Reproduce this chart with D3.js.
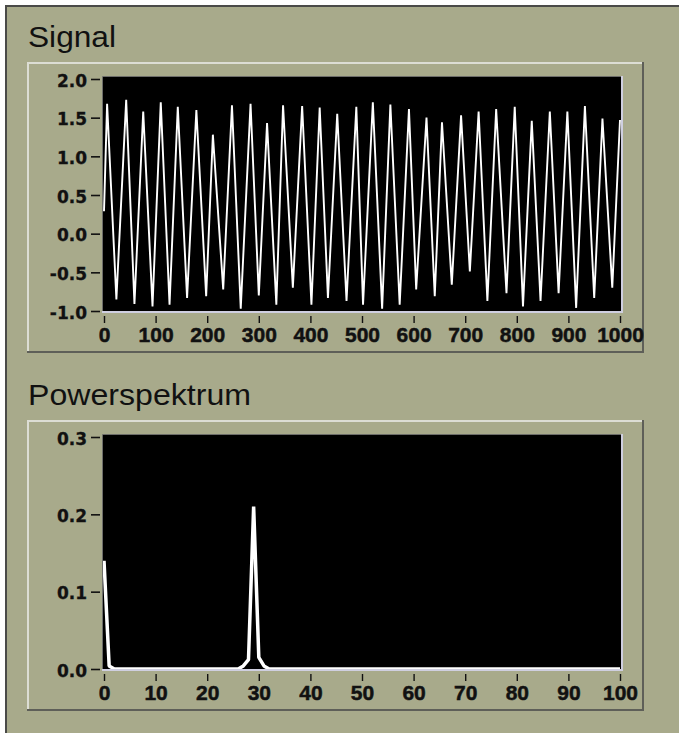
<!DOCTYPE html>
<html>
<head>
<meta charset="utf-8">
<script src="https://cdn.jsdelivr.net/npm/d3@7"></script>
<style>
  body { margin: 0; background: #fff; }
  svg { display: block; }
</style>
</head>
<body>
<div id="chart"></div>
<script>
// Signal trace: turning points (sample index, amplitude)
const signalIdx = [0, 6, 24, 43, 59, 76, 94, 110, 127, 143, 161, 179, 198, 211, 231,
  248, 265, 284, 300, 316, 334, 347, 366, 384, 402, 418, 434, 452, 470, 489, 502,
  521, 539, 555, 573, 591, 605, 625, 641, 655, 674, 692, 709, 726, 743,
  760, 780, 796, 812, 829, 846, 864, 881, 898, 915, 932, 950, 966, 985, 1000];
const signalVal = [0.29, 1.68, -0.85, 1.73, -0.91, 1.58, -0.94, 1.70, -0.92, 1.64, -0.83, 1.60, -0.81, 1.28, -0.72,
  1.66, -0.97, 1.68, -0.80, 1.43, -0.92, 1.66, -0.70, 1.65, -0.92, 1.63, -0.83, 1.55, -0.87, 1.64, -0.92,
  1.70, -0.97, 1.67, -0.92, 1.61, -0.72, 1.50, -0.81, 1.44, -0.66, 1.53, -0.49, 1.58, -0.87,
  1.61, -0.77, 1.64, -0.94, 1.46, -0.87, 1.58, -0.77, 1.58, -0.96, 1.65, -0.83, 1.49, -0.70, 1.47];
const signalXTicks = [0, 100, 200, 300, 400, 500, 600, 700, 800, 900, 1000];
const signalYTicks = [-1.0, -0.5, 0.0, 0.5, 1.0, 1.5, 2.0];

// Power spectrum: bins where the trace changes
const specBin = [0, 1, 2, 26, 27, 28, 29, 30, 31, 32, 100];
const specVal = [0.14, 0.004, 0, 0, 0.004, 0.012, 0.21, 0.015, 0.004, 0, 0];
const specXTicks = [0, 10, 20, 30, 40, 50, 60, 70, 80, 90, 100];
const specYTicks = [0.0, 0.1, 0.2, 0.3];

const W = 679, H = 733;
const bg = "#a8aa8b";

const svg = d3.select("#chart").append("svg")
  .attr("width", W)
  .attr("height", H);

// window background with its dark edge top/left
svg.append("rect")
  .attr("x", 5).attr("y", 5)
  .attr("width", W - 5).attr("height", H - 5)
  .attr("fill", bg);
svg.append("path")
  .attr("d", "M6," + H + " V6 H" + W)
  .attr("fill", "none")
  .attr("stroke", "#4a4a48")
  .attr("stroke-width", 2);

function drawGraph(cfg) {
  const dy = cfg.offset;
  const g = svg.append("g").attr("transform", "translate(0," + dy + ")");

  // title
  g.append("text")
    .attr("x", 28)
    .attr("y", 47)
    .attr("font-family", "Liberation Sans, Arial, sans-serif")
    .attr("font-size", 29)
    .attr("fill", "#111")
    .attr("textLength", cfg.titleWidth)
    .attr("lengthAdjust", "spacingAndGlyphs")
    .text(cfg.title);

  // raised panel
  g.append("rect")
    .attr("x", 27).attr("y", 62)
    .attr("width", 617).attr("height", 290)
    .attr("fill", bg);
  g.append("path")
    .attr("d", "M28,351 V63 H643")
    .attr("fill", "none").attr("stroke", "#dcddd4").attr("stroke-width", 2);
  g.append("path")
    .attr("d", "M27,352 H643 V62")
    .attr("fill", "none").attr("stroke", "#5e5f58").attr("stroke-width", 2);

  // plot area
  const plot = { x: 103, y: 77, w: 518, h: 234 };
  g.append("rect")
    .attr("x", plot.x).attr("y", plot.y)
    .attr("width", plot.w).attr("height", plot.h)
    .attr("fill", "#000");

  const x = d3.scaleLinear().domain(cfg.xDomain).range([104, 620]);
  const y = d3.scaleLinear().domain(cfg.yDomain).range([311, 79]);

  const clipId = "clip" + cfg.key;
  g.append("clipPath").attr("id", clipId)
    .append("rect")
    .attr("x", plot.x).attr("y", plot.y)
    .attr("width", plot.w).attr("height", plot.h);

  const line = d3.line()
    .x(d => x(d[0]))
    .y(d => y(d[1]));

  g.append("path")
    .datum(d3.zip(cfg.xs, cfg.ys))
    .attr("clip-path", "url(#" + clipId + ")")
    .attr("d", line)
    .attr("fill", "none")
    .attr("stroke", "#fff")
    .attr("stroke-width", cfg.lineWidth)
    .attr("stroke-linejoin", cfg.join);

  // sunken border of the plot
  g.append("path")
    .attr("d", "M102.5,311 V76.5 H621")
    .attr("fill", "none").attr("stroke", "#6d6d6a").attr("stroke-width", 1);
  g.append("path")
    .attr("d", "M102,312 H622 V76")
    .attr("fill", "none").attr("stroke", "#cfcfe0").attr("stroke-width", 2);

  // axes
  const xAxis = g.append("g")
    .attr("transform", "translate(0,316)")
    .call(d3.axisBottom(x)
      .tickValues(cfg.xTicks)
      .tickSize(7)
      .tickPadding(4.5)
      .tickFormat(d3.format("d")));
  xAxis.select(".domain").remove();
  xAxis.attr("color", "#111")
    .attr("font-family", "Liberation Sans, Arial, sans-serif")
    .attr("font-size", 21)
    .attr("font-weight", "bold");
  xAxis.selectAll(".tick line").attr("stroke-width", 1.4);
  xAxis.selectAll(".tick text")
    .attr("stroke", "#111").attr("stroke-width", 0.5);

  const yAxis = g.append("g")
    .attr("transform", "translate(100,0)")
    .call(d3.axisLeft(y)
      .tickValues(cfg.yTicks)
      .tickSize(9)
      .tickPadding(4)
      .tickFormat(v => v.toFixed(1)));
  yAxis.select(".domain").remove();
  yAxis.attr("color", "#111")
    .attr("font-family", "DejaVu Sans, sans-serif")
    .attr("font-size", 17)
    .attr("font-weight", "bold");
  yAxis.selectAll(".tick line").attr("stroke-width", 1.6);
  yAxis.selectAll(".tick text")
    .attr("dy", "0.42em")
    .attr("stroke", "#111").attr("stroke-width", 0.3);
}

drawGraph({
  key: "sig", offset: 0, title: "Signal", titleWidth: 88,
  xs: signalIdx, ys: signalVal, xDomain: [0, 1000], yDomain: [-1, 2],
  xTicks: signalXTicks, yTicks: signalYTicks, lineWidth: 1.9, join: "miter"
});

drawGraph({
  key: "pow", offset: 358, title: "Powerspektrum", titleWidth: 223,
  xs: specBin, ys: specVal, xDomain: [0, 100], yDomain: [0, 0.3],
  xTicks: specXTicks, yTicks: specYTicks, lineWidth: 3.5, join: "bevel"
});
</script>
</body>
</html>
